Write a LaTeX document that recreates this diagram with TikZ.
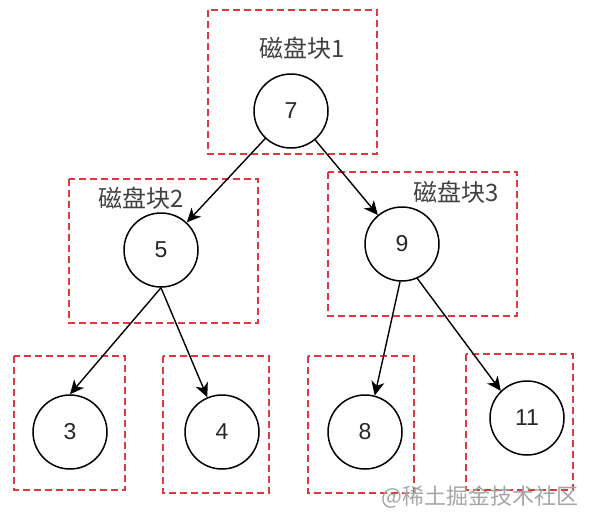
\documentclass[tikz,border=0pt]{standalone}
\usepackage{fontspec}
\setmainfont{Liberation Sans}
\newfontfamily\cjk{Noto Sans CJK SC}
\usetikzlibrary{arrows.meta}
\definecolor{boxred}{RGB}{222,56,64}
\definecolor{markgray}{RGB}{165,165,165}

\begin{document}
\begin{tikzpicture}[x=1pt,y=-1pt,
    key/.style={circle,draw,line width=1.5pt,minimum size=74pt,inner sep=0pt,
      text=black!85,font=\fontsize{23}{23}\selectfont},
    blockbox/.style={draw=boxred,line width=1.6pt,dash pattern=on 7pt off 4pt},
    blocklabel/.style={text=black!75,font=\cjk\fontsize{24}{24}\selectfont},
    link/.style={-{Stealth[length=14pt,width=13pt,inset=4pt]},line width=1.4pt}]
        \useasboundingbox (0,0) rectangle (609,525);
        % disk blocks
        \draw[blockbox] (208,10) rectangle (377,154);
        \draw[blockbox] (69,179) rectangle (258,323);
        \draw[blockbox] (328,172) rectangle (517,316);
        \draw[blockbox] (14,356) rectangle (125,490);
        \draw[blockbox] (163,356) rectangle (269,493);
        \draw[blockbox] (308,356) rectangle (414,493);
        \draw[blockbox] (466,354) rectangle (573,490);
        \node[blocklabel] (b1) at (302,48) {磁盘块1};
        \node[blocklabel] (b2) at (141,198) {磁盘块2};
        \node[blocklabel] (b3) at (456,192) {磁盘块3};
        % keys
        \node[key] (n7) at (291,111) {7}; \node[key] (n5) at (161,250) {5};
        \node[key] (n9) at (402,244) {9};
        \node[key] (n3) at (70,432) {3}; \node[key] (n4) at (222,432) {4};
        \node[key] (n8) at (365,432) {8}; \node[key] (n11) at (527,418) {11};
        \draw[link] (n7) -- (n5);
        \draw[link] (n7) -- (n9);
        \draw[link] (n5.south) -- (n3.north);
        \draw[link] (n5.south) -- (n4.113);
        \draw[link] (n9.-93) -- (n8.75);
        \draw[link] (n9.-66) -- (n11.134);
        \node[text=markgray,font=\cjk\fontsize{22}{22}\selectfont] (mark) at (480,497) {@稀土掘金技术社区};
\end{tikzpicture}
\end{document}
